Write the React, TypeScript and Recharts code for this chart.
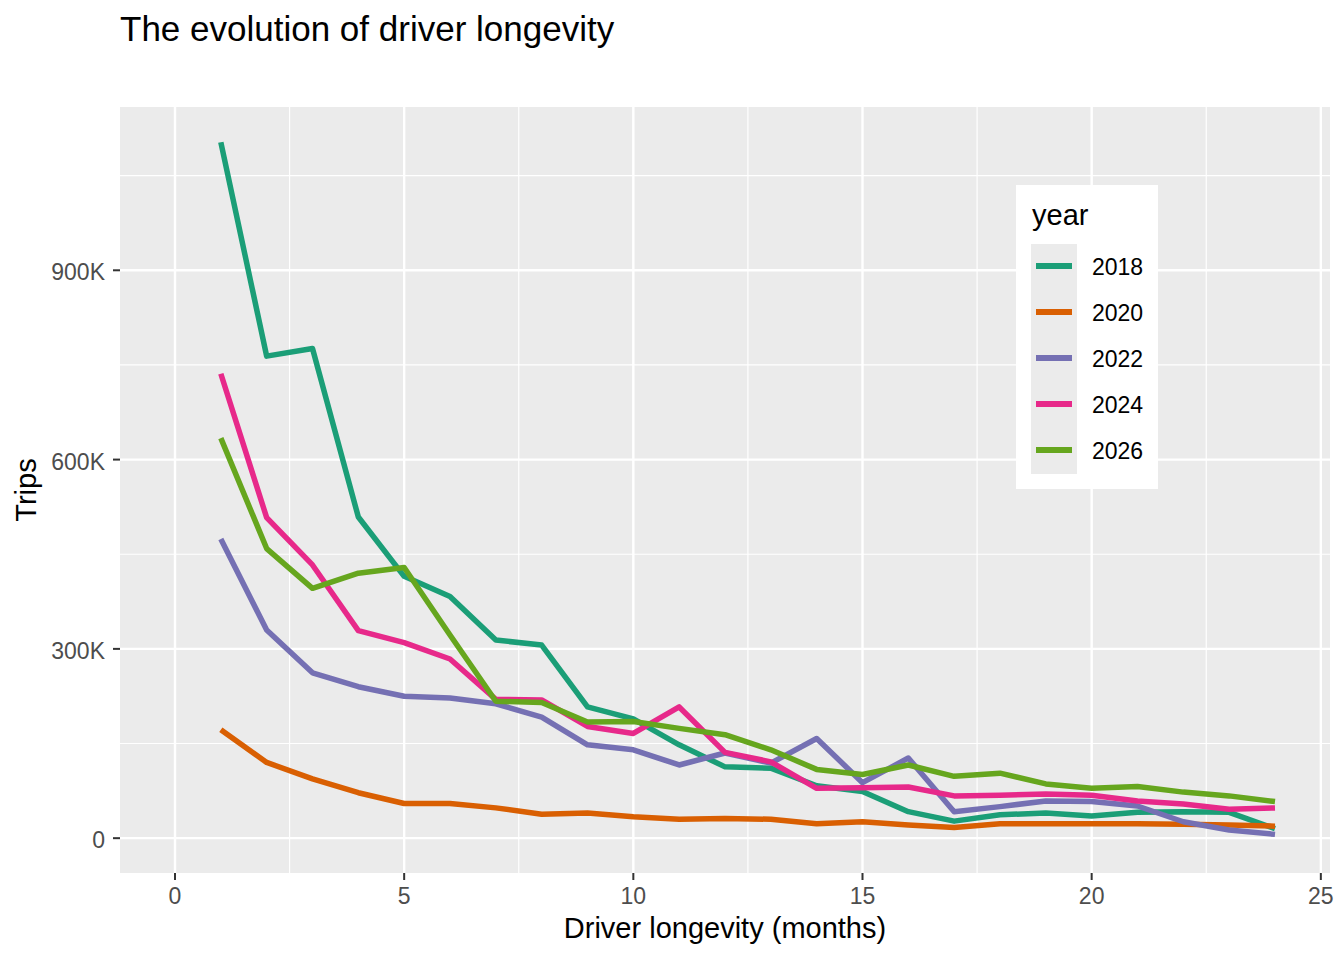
import React from 'react';
import { LineChart, Line, XAxis, YAxis, CartesianGrid, Legend } from 'recharts';

const months = [1, 2, 3, 4, 5, 6, 7, 8, 9, 10, 11, 12, 13, 14, 15, 16, 17, 18, 19, 20, 21, 22, 23, 24];

// Trips, in thousands
const trips2018 = [1103, 764, 776, 509, 415, 383, 314, 306, 208, 189, 148, 113, 111, 83, 74, 42, 27, 37, 40, 35, 41, 42, 41, 15];
const trips2020 = [172, 120, 94, 72, 55, 55, 48, 38, 40, 34, 30, 31, 30, 23, 26, 21, 17, 23, 23, 23, 23, 22, 21, 19];
const trips2022 = [474, 330, 262, 240, 225, 222, 213, 192, 148, 140, 116, 135, 119, 158, 88, 127, 42, 50, 59, 58, 51, 26, 13, 6];
const trips2024 = [736, 508, 433, 329, 310, 284, 220, 219, 177, 166, 208, 136, 121, 79, 80, 81, 67, 68, 70, 68, 59, 54, 46, 48];
const trips2026 = [634, 459, 396, 420, 429, 322, 217, 215, 184, 185, 174, 164, 140, 109, 101, 116, 98, 103, 86, 79, 82, 73, 67, 58];

const years = ['2018', '2020', '2022', '2024', '2026'];
const colors = ['#1B9E77', '#D95F02', '#7570B3', '#E7298A', '#66A61E'];
const seriesValues = [trips2018, trips2020, trips2022, trips2024, trips2026];

const xTicks = [0, 5, 10, 15, 20, 25];
const xMinor = [2.5, 7.5, 12.5, 17.5, 22.5];
const yTicks = [0, 300, 600, 900];
const yMinor = [150, 450, 750, 1050];

const data = months.map((m, i) => {
  const row: Record<string, number> = { month: m };
  years.forEach((y, j) => {
    row['y' + y] = seriesValues[j][i];
  });
  return row;
});

const FONT = '"Liberation Sans", Arial, Helvetica, sans-serif';

const LegendBox = (props: any) => {
  const payload = props.payload || [];
  return (
    <div style={{ position: 'relative', width: 142, height: 304, background: '#FFFFFF', fontFamily: FONT }}>
      <div style={{ position: 'absolute', left: 16, top: 16, fontSize: 29, lineHeight: '29px', color: '#000', whiteSpace: 'nowrap' }}>year</div>
      <div style={{ position: 'absolute', left: 15, top: 59, width: 46, height: 230, background: '#EBEBEB' }} />
      {payload.map((p: any, i: number) => (
        <div key={i} style={{ position: 'absolute', left: 0, top: 59 + i * 46, width: 142, height: 46 }}>
          <div style={{ position: 'absolute', left: 20, top: 19, width: 36, height: 6, background: p.color }} />
          <div style={{ position: 'absolute', left: 76, top: 0, fontSize: 23, lineHeight: '46px', color: '#000', whiteSpace: 'nowrap' }}>{p.value}</div>
        </div>
      ))}
    </div>
  );
};

const XTitle = (props: any) => {
  const vb = props.viewBox || { x: 120, y: 873, width: 1210 };
  return (
    <text x={vb.x + vb.width / 2} y={vb.y + 65} textAnchor="middle" fontSize={29} fill="#000" fontFamily={FONT}>
      Driver longevity (months)
    </text>
  );
};

const YTitle = (props: any) => {
  const vb = props.viewBox || { x: 60, y: 107, width: 60, height: 766 };
  const cx = 36;
  const cy = vb.y + vb.height / 2;
  return (
    <text x={cx} y={cy} textAnchor="middle" fontSize={29} fill="#000" fontFamily={FONT} transform={`rotate(-90 ${cx} ${cy})`}>
      Trips
    </text>
  );
};

export default function App() {
  return (
    <div style={{ position: 'absolute', left: 0, top: 0, width: 1344, height: 960, background: '#FFFFFF', fontFamily: FONT }}>
      <div style={{ position: 'absolute', left: 120, top: 11, fontSize: 35, lineHeight: '35px', color: '#000', whiteSpace: 'nowrap', zIndex: 2 }}>
        The evolution of driver longevity
      </div>
      <LineChart width={1344} height={960} data={data} margin={{ top: 107, right: 14, bottom: 27, left: 60 }}>
        <CartesianGrid
          fill="#EBEBEB"
          stroke="#FFFFFF"
          strokeWidth={1.2}
          verticalValues={xMinor}
          horizontalValues={yMinor}
        />
        <CartesianGrid
          fill="none"
          stroke="#FFFFFF"
          strokeWidth={2.4}
          verticalValues={xTicks}
          horizontalValues={yTicks}
        />
        <XAxis
          type="number"
          dataKey="month"
          domain={[-1.2, 25.2]}
          ticks={xTicks}
          allowDataOverflow
          interval={0}
          axisLine={false}
          tickLine={{ stroke: '#333333', strokeWidth: 2 }}
          tickSize={7}
          tickMargin={8}
          tick={{ fill: '#4D4D4D', fontSize: 23 }}
          height={60}
          label={<XTitle />}
        />
        <YAxis
          type="number"
          domain={[-55.2, 1158.8]}
          ticks={yTicks}
          allowDataOverflow
          interval={0}
          axisLine={false}
          tickLine={{ stroke: '#333333', strokeWidth: 2 }}
          tickSize={7}
          tickMargin={8}
          tick={{ fill: '#4D4D4D', fontSize: 23, dy: 2 }}
          tickFormatter={(v: number) => (v === 0 ? '0' : `${v}K`)}
          width={60}
          label={<YTitle />}
        />
        {years.map((y, j) => (
          <Line
            key={y}
            type="linear"
            dataKey={'y' + y}
            name={y}
            stroke={colors[j]}
            strokeWidth={5.5}
            strokeLinejoin="round"
            dot={false}
            activeDot={false}
            isAnimationActive={false}
          />
        ))}
        <Legend
          layout="horizontal"
          align="center"
          verticalAlign="middle"
          content={<LegendBox />}
          wrapperStyle={{ position: 'absolute', left: 1016, top: 185, width: 142, height: 304, margin: 0, padding: 0 }}
        />
      </LineChart>
    </div>
  );
}
